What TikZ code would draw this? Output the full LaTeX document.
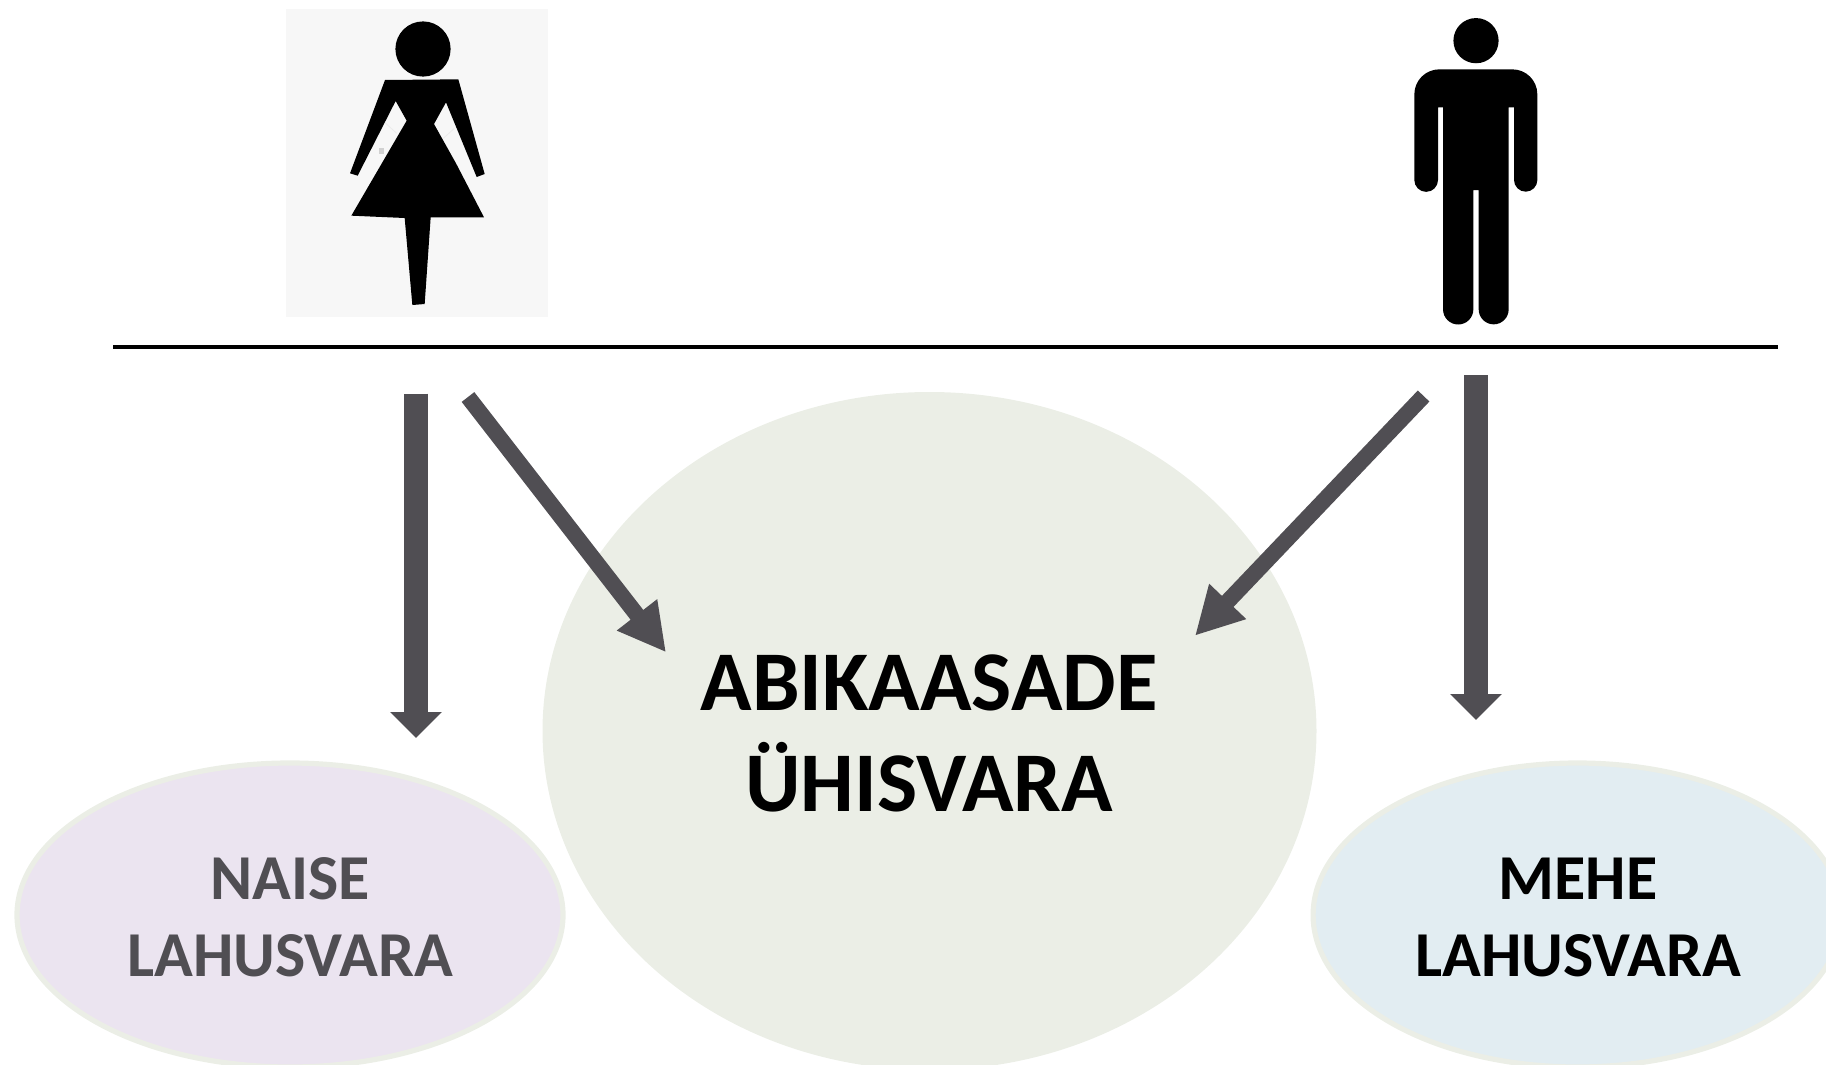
\documentclass[tikz,border=0pt]{standalone}
\usepackage{fontspec}
\setmainfont{Carlito}
\usetikzlibrary{arrows.meta,shapes.geometric}
\definecolor{arrowgrey}{HTML}{504E53}
\definecolor{rimgreen}{HTML}{EBEEE6}
\definecolor{fillgreen}{HTML}{EBEEE6}
\definecolor{fillpurple}{HTML}{EBE4F0}
\definecolor{fillblue}{HTML}{E2EDF2}
\definecolor{iconback}{HTML}{F7F7F7}
\tikzset{
  px/.style={x=0.5pt,y=-0.5pt},
  zoomunits/.style={x=0.166667pt,y=-0.166667pt},
  sideoval/.style={ellipse,draw=rimgreen,line width=2.6pt,inner sep=0pt,minimum height=152pt},
  mainoval/.style={ellipse,fill=fillgreen,inner sep=0pt,minimum width=387pt,minimum height=339pt},
  sidelabel/.style={align=center,inner sep=0pt,font=\bfseries\fontsize{32pt}{38.3pt}\selectfont},
  mainlabel/.style={align=center,inner sep=0pt,text=black,font=\bfseries\fontsize{42.5pt}{50.6pt}\selectfont},
  blockarrow/.style={draw=arrowgrey,line width=12.25pt,-{Triangle[width=25pt,length=13pt,fill=arrowgrey]}},
  slantarrow/.style={draw=arrowgrey,line width=8pt,-{Triangle[width=23.8pt,length=23.7pt,fill=arrowgrey]}},
}
\begin{document}
\begin{tikzpicture}[px]
\useasboundingbox (0,0) rectangle (1826,1065);
\clip (0,0) rectangle (1826,1065);

% ovals
\node[mainoval] (jointoval) at (929.5,731) {};
\node[sideoval,fill=fillpurple,minimum width=273pt] (wifeoval) at (290,915) {};
\node[sideoval,fill=fillblue,minimum width=264.4pt] (husbandoval) at (1577.5,915) {};

% labels
\node[mainlabel] (jointlabel) at (929,733.5) {ABIKAASADE\\ÜHISVARA};
\node[sidelabel,text=arrowgrey] (wifelabel) at (290,917.5) {NAISE\\LAHUSVARA};
\node[sidelabel,text=black] (husbandlabel) at (1578,917.5) {MEHE\\LAHUSVARA};

% woman icon
\path[fill=iconback] (286,9) rectangle (547.7,317);
\begin{scope}[shift={(270,0)},zoomunits]
  \draw[draw=black!8,line width=0.4pt] (345,368) -- (380,400) (553,385) -- (520,415);
  \fill[black!18] (327,445) rectangle (343,461);
  \fill[black] (459,147) circle[radius=13.8pt];
  \fill[black] (345,240) -- (565,238) -- (644,522) -- (620,531) -- (528,307) -- (492,372)
    -- (558,490) -- (642,652) -- (482,652) -- (464,912) -- (427,915) -- (404,654) -- (244,647)
    -- (410,362) -- (377,303) -- (263,527) -- (240,520) -- cycle;
\end{scope}

% man icon
\begin{scope}[shift={(1380,0)},zoomunits]
  \fill[black] (288,122) circle[radius=11.3pt];
  \fill[black] (103,283) arc[start angle=180,end angle=90,radius=12.5pt]
    -- (397,208) arc[start angle=90,end angle=0,radius=12.5pt]
    -- (472,540) arc[start angle=0,end angle=-180,radius=5.83pt]
    -- (402,322) -- (386,322)
    -- (386,928) arc[start angle=0,end angle=-180,radius=7.5pt]
    -- (296,570) -- (280,570)
    -- (280,928) arc[start angle=0,end angle=-180,radius=7.58pt]
    -- (189,322) -- (174,322)
    -- (174,540) arc[start angle=0,end angle=-180,radius=5.92pt]
    -- cycle;
\end{scope}

% divider
\coordinate (ruleL) at (113,347);
\coordinate (ruleR) at (1778,347);
\draw[black,line width=1.9pt] (ruleL) -- (ruleR);

% arrows
\coordinate (wifeA) at (416,393.5);
\coordinate (wifeAend) at (416,738);
\coordinate (wifeB) at (468,397);
\coordinate (wifeBend) at (666,652.3);
\coordinate (manA) at (1476,375);
\coordinate (manAend) at (1476,720);
\coordinate (manB) at (1423.6,396);
\coordinate (manBend) at (1195,635.7);
\draw[blockarrow] (wifeA) -- (wifeAend);
\draw[slantarrow] (wifeB) -- (wifeBend);
\draw[blockarrow] (manA) -- (manAend);
\draw[slantarrow] (manB) -- (manBend);
\end{tikzpicture}
\end{document}
